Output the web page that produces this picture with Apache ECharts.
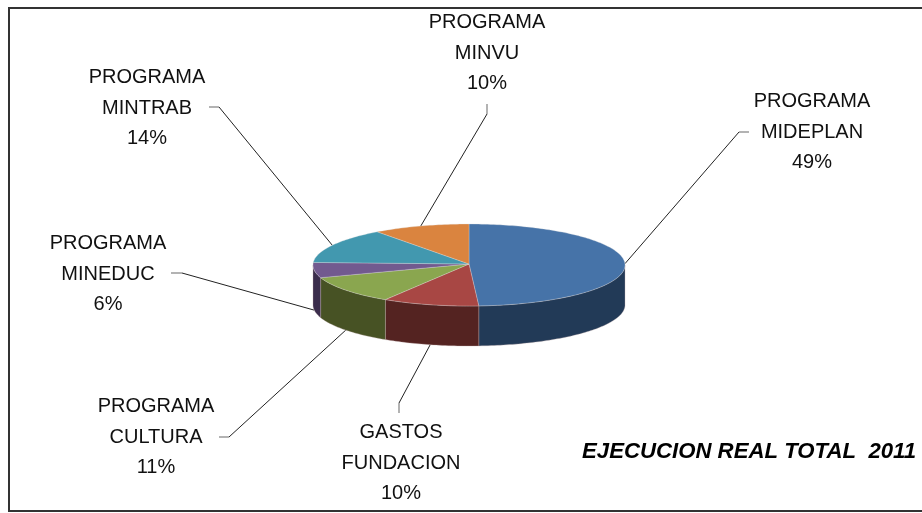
<!DOCTYPE html>
<html><head><meta charset="utf-8">
<style>html,body{margin:0;padding:0;background:#fff}#c{width:922px;height:513px}</style>
<script src="https://cdn.jsdelivr.net/npm/echarts@6/dist/echarts.min.js"></script>
</head><body><div id="c"></div>
<script>
// Data
const categories = ['PROGRAMA\nMIDEPLAN','GASTOS\nFUNDACION','PROGRAMA\nCULTURA','PROGRAMA\nMINEDUC','PROGRAMA\nMINTRAB','PROGRAMA\nMINVU'];
const values = [49,10,11,6,14,10];
const title = 'EJECUCION REAL TOTAL  2011';
// Styles
const topColors  = ['#4673A8','#A84744','#8AA64F','#725A8F','#4298AF','#DA843F'];
const sideColors = ['#223A57','#542321','#475224','#3B2D4C','#21505E','#7A4820'];
// Layout
const CX=469, CY=265, RX=156, RY=41, DEPTH=40, APEX_Y=264;
const labelCentres = [[812,132],[401,463],[156,437],[108,274],[147,108],[487,53]];
const labelElbows  = [[[749,132],[739,132]],[[399,413],[399,403]],[[219,437],[229,437]],[[171,273],[182,273]],[[209,107],[219,107]],[[487,104],[487,114]]];

const total = values.reduce((a,b)=>a+b,0);
const starts = values.map((_,i)=>values.slice(0,i).reduce((a,b)=>a+b,0)/total*2*Math.PI);
const ends = starts.map((s,i)=>s+values[i]/total*2*Math.PI);
const pt=(a,dy)=>[CX+RX*Math.sin(a), CY-RY*Math.cos(a)+(dy||0)];
function arc(a0,a1,dy){const n=Math.max(2,Math.ceil((a1-a0)/0.02));const out=[];for(let k=0;k<=n;k++)out.push(pt(a0+(a1-a0)*k/n,dy));return out;}

function renderSide(params){
  const i=params.dataIndex;
  const a0=Math.max(starts[i],Math.PI/2), a1=Math.min(ends[i],Math.PI*1.5);
  if(a1<=a0) return {type:'group',children:[]};
  const pts=arc(a0,a1,0).concat(arc(a0,a1,DEPTH).reverse());
  return {type:'polygon',shape:{points:pts},style:{fill:sideColors[i],stroke:'rgba(190,170,170,0.55)',lineWidth:0.6}};
}
function renderTop(params){
  const i=params.dataIndex;
  const pts=[[CX,APEX_Y]].concat(arc(starts[i],ends[i],0));
  return {type:'polygon',shape:{points:pts},style:{fill:topColors[i],stroke:'rgba(225,225,225,0.5)',lineWidth:0.6}};
}
function renderLabel(params,api){
  const i=params.dataIndex, mid=(starts[i]+ends[i])/2;
  const front=Math.cos(mid)<-0.05;
  const anchor=pt(mid,front?DEPTH:0);
  const el=labelElbows[i], c=labelCentres[i];
  return {type:'group',children:[
    {type:'polyline',shape:{points:[el[1],anchor]},style:{fill:null,stroke:'#222',lineWidth:1}},
    {type:'polyline',shape:{points:[el[0],el[1]]},style:{fill:null,stroke:'#808080',lineWidth:1.2}},
    {type:'text',style:{text:categories[i]+'\n'+api.value(0)+'%',x:c[0],y:c[1],align:'center',verticalAlign:'middle',
      font:'20px "Liberation Sans"',lineHeight:30.3,fill:'#111'}}
  ]};
}
const seriesData=values.map(v=>[v]);
const base={type:'custom',coordinateSystem:'none',silent:true,animation:false,data:seriesData,clip:false};
const chart=echarts.init(document.getElementById('c'),null,{renderer:'canvas'});
chart.setOption({
  animation:false,backgroundColor:'#fff',
  graphic:[
    {type:'rect',shape:{x:9,y:8,width:916,height:503},style:{fill:null,stroke:'#333',lineWidth:2},silent:true,z:0},
    {type:'text',style:{text:title,x:582,y:452,verticalAlign:'middle',font:'italic bold 22.2px "Liberation Sans"',fill:'#000'},silent:true}
  ],
  series:[
    Object.assign({},base,{name:'side',renderItem:renderSide,z:2}),
    Object.assign({},base,{name:'top',renderItem:renderTop,z:3}),
    Object.assign({},base,{name:'label',renderItem:renderLabel,z:1})
  ]
});
</script></body></html>
